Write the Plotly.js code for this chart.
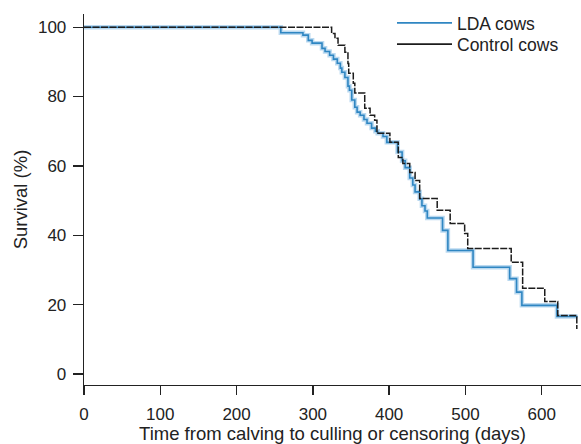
<!DOCTYPE html>
<html>
<head>
<meta charset="utf-8">
<script src="https://cdn.plot.ly/plotly-3.0.1.min.js"></script>
<style>html,body{margin:0;padding:0;background:#fff;}#chart{width:581px;height:444px;}</style>
</head>
<body>
<div id="chart"></div>
<script>
// LDA cows (Kaplan-Meier steps): days and survival (%)
var ldaDays = [0, 258, 287, 294, 299, 312, 316, 322, 327, 332, 336, 338, 342, 346, 348, 351, 355, 358, 362, 367, 371, 377, 382, 385, 392, 397, 411, 417, 421, 427, 431, 434, 440, 443, 447, 450, 470, 477, 510, 558, 567, 574, 620, 647];
var ldaSurv = [100, 98.4, 97.7, 96.2, 95.4, 93.9, 93.0, 91.9, 90.8, 89.6, 88.2, 87.0, 85.5, 83.0, 81.8, 79.0, 76.9, 75.5, 74.6, 73.4, 72.3, 70.9, 70.0, 69.4, 68.5, 66.8, 64.0, 61.5, 59.5, 56.5, 54.5, 52.5, 50.5, 48.5, 47.0, 45.0, 41.4, 35.6, 30.8, 27.5, 23.6, 19.8, 16.6, 16.6];

// Control cows
var ctrlDays = [0, 324.6, 329, 333, 342, 346, 347, 353, 355, 368, 375, 381, 384, 401, 412, 418, 427, 434, 440, 463, 480, 499, 503, 560, 575, 604, 621, 646];
var ctrlSurv = [100, 98.2, 96.8, 94.8, 92.8, 89.5, 86.7, 83.8, 81.0, 76.6, 74.6, 73.2, 69.4, 66.8, 62.4, 60.7, 58.1, 55.8, 50.6, 47.2, 43.4, 40.5, 36.2, 32.2, 24.7, 20.9, 16.9, 13.0];

var xTicks = [0, 100, 200, 300, 400, 500, 600];
var yTicks = [0, 20, 40, 60, 80, 100];
var seriesNames = ['LDA cows', 'Control cows'];

var FONT = 'Liberation Sans, Arial, Helvetica, sans-serif';
var TXT = '#222222';

var traces = [
  {x: ldaDays, y: ldaSurv, mode: 'lines', line: {shape: 'hv', color: 'rgba(130,185,228,0.55)', width: 4.5}, showlegend: false, hoverinfo: 'skip'},
  {x: ldaDays, y: ldaSurv, mode: 'lines', line: {shape: 'hv', color: '#2f86c2', width: 1.6}, showlegend: false},
  {x: ctrlDays, y: ctrlSurv, mode: 'lines', line: {shape: 'hv', color: '#1c1c1c', width: 1.5, dash: '7px,1.5px'}, showlegend: false},
  {x: [null], y: [null], mode: 'lines', name: seriesNames[0], legend: 'legend', line: {color: '#2f86c2', width: 1.8}},
  {x: [null], y: [null], mode: 'lines', name: seriesNames[1], legend: 'legend2', line: {color: '#1c1c1c', width: 1.8}}
];

var legendBase = {xanchor: 'left', yanchor: 'top', bgcolor: 'rgba(0,0,0,0)', itemwidth: 55, font: {family: FONT, size: 17.5, color: TXT}};

var layout = {
  width: 581, height: 444,
  margin: {l: 84, r: 0, t: 14, b: 59},
  paper_bgcolor: '#fff', plot_bgcolor: '#fff',
  font: {family: FONT, size: 17, color: TXT},
  showlegend: true,
  legend: Object.assign({}, legendBase, {x: 0.6197, y: 1.024}),
  legend2: Object.assign({}, legendBase, {x: 0.6197, y: 0.967}),
  xaxis: {
    range: [0, 651.5], tickvals: xTicks, ticktext: xTicks.map(String),
    showline: true, linecolor: '#222', linewidth: 1.3,
    ticks: 'outside', ticklen: 9, tickwidth: 1.3, tickcolor: '#222',
    showgrid: false, zeroline: false,
    tickfont: {family: FONT, size: 17, color: TXT},
    ticklabelstandoff: 4,
    title: {text: 'Time from calving to culling or censoring (days)', font: {family: FONT, size: 18.5, color: TXT}, standoff: 15}
  },
  yaxis: {
    range: [-3.17, 103.8], tickvals: yTicks, ticktext: yTicks.map(String),
    showline: true, linecolor: '#222', linewidth: 1.3,
    ticks: 'outside', ticklen: 10, tickwidth: 1.3, tickcolor: '#222',
    showgrid: false, zeroline: false,
    tickfont: {family: FONT, size: 17, color: TXT},
    ticklabelstandoff: 3,
    title: {text: 'Survival (%)', font: {family: FONT, size: 18.5, color: TXT}, standoff: 5}
  }
};

Plotly.newPlot('chart', traces, layout, {displayModeBar: false, staticPlot: true});
</script>
</body>
</html>
